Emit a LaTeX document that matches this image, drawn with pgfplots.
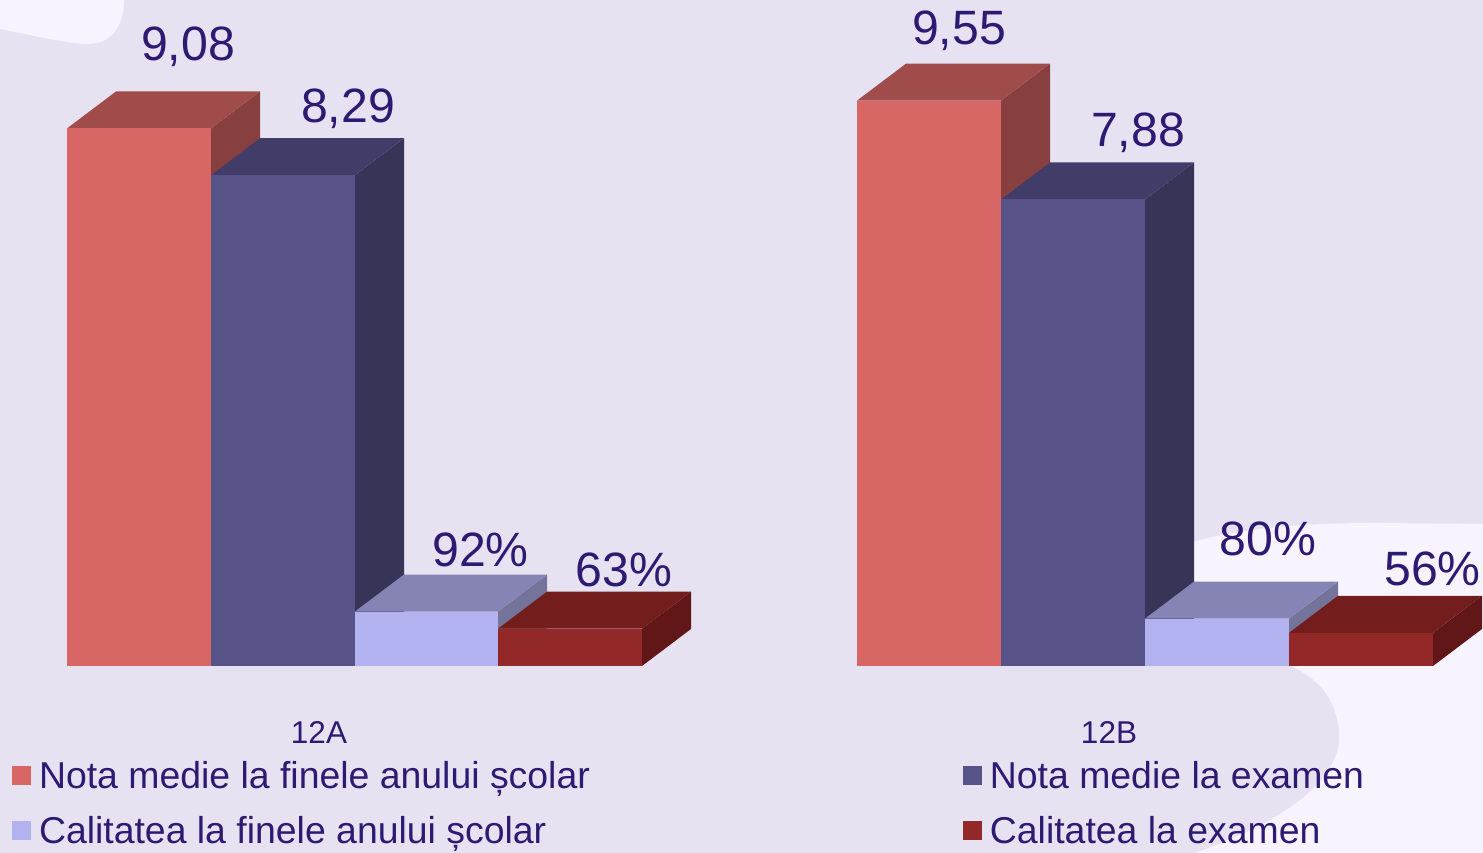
\documentclass[border=0pt]{standalone}
\usepackage{pgfplots}
\pgfplotsset{compat=1.18}
\usepackage{fontspec}
\setmainfont{Liberation Sans}
\definecolor{bg}{HTML}{E6E2F1}
\definecolor{blob}{HTML}{F7F4FF}
\definecolor{ink}{HTML}{2E1A72}
\definecolor{rf}{HTML}{D76664}\definecolor{rt}{HTML}{A04C4A}\definecolor{rs}{HTML}{873F3F}
\definecolor{nf}{HTML}{575389}\definecolor{nt}{HTML}{423D68}\definecolor{ns}{HTML}{363558}
\definecolor{lf}{HTML}{B2B2F0}\definecolor{lt}{HTML}{8584B5}\definecolor{ls}{HTML}{747399}
\definecolor{df}{HTML}{922827}\definecolor{dt}{HTML}{731D1D}\definecolor{ds}{HTML}{611717}
% #1 left x, #2 right x, #3 value, #4 front, #5 top, #6 side
\newcommand\cube[6]{%
  \pgfmathsetmacro\xa{#1+49}\pgfmathsetmacro\xb{#2+49}%
  \pgfmathsetmacro\yb{0.625}\pgfmathsetmacro\yt{#3+0.625}%
  \addplot[fill=#6,draw=none,forget plot] coordinates {(#2,0)(\xb,\yb)(\xb,\yt)(#2,#3)} --cycle;
  \addplot[fill=#5,draw=none,forget plot] coordinates {(#1,#3)(\xa,\yt)(\xb,\yt)(#2,#3)} --cycle;
  \addplot[fill=#4,draw=none,forget plot] coordinates {(#1,0)(#2,0)(#2,#3)(#1,#3)} --cycle;
}
\pgfplotsset{
  swatch/.style={legend image code/.code={\fill[#1,draw=none] (0pt,-9.5pt) rectangle (19pt,9.5pt);\path[draw=none,fill=none] (0pt,0pt) rectangle (25pt,0pt);}}
}
\begin{document}
\begin{tikzpicture}[x=1pt,y=1pt]
\path[use as bounding box] (0,0) rectangle (1483,853);
\fill[bg] (0,0) rectangle (1483,853);
\fill[blob] (0,824) .. controls (40,816) and (70,809) .. (88,809)
  .. controls (110,809) and (124,825) .. (124,853) -- (0,853) -- cycle;
\fill[blob] (1185,309) .. controls (1250,328) and (1320,330) .. (1380,330) -- (1483,329) -- (1483,0) -- (1195,0)
  .. controls (1280,30) and (1339,70) .. (1339,116)
  .. controls (1339,150) and (1320,175) .. (1290,187) -- (1170,187) -- cycle;
\begin{axis}[
  at={(0pt,0pt)},anchor=south west,scale only axis,
  width=1483pt,height=853pt,
  xmin=0,xmax=1483,ymin=-3.159,ymax=11.25,
  axis line style={draw=none},
  major tick length=0pt,
  ytick=\empty,
  xtick={319,1109},xticklabels={12A,12B},
  x tick label style={anchor=base,yshift=109pt,font=\fontsize{31.5pt}{34pt}\selectfont,text=ink},
  clip=false,
  legend columns=2,
  legend cell align=left,
  legend style={at={(axis cs:12,-1.57)},anchor=north west,draw=none,fill=none,inner sep=0pt,outer sep=0pt,
    font=\fontsize{37.4pt}{40pt}\selectfont,text=ink,
    /tikz/every even column/.style={column sep=371pt},
    /tikz/row sep=23pt},
]
\cube{67}{211}{9.08}{rf}{rt}{rs}
\cube{211}{355}{8.29}{nf}{nt}{ns}
\cube{355}{498}{0.92}{lf}{lt}{ls}
\cube{498}{642}{0.63}{df}{dt}{ds}
\cube{857}{1001}{9.55}{rf}{rt}{rs}
\cube{1001}{1145}{7.88}{nf}{nt}{ns}
\cube{1145}{1289}{0.80}{lf}{lt}{ls}
\cube{1289}{1433}{0.56}{df}{dt}{ds}
\addlegendimage{swatch={rf}}\addlegendentry{Nota medie la finele anului școlar}
\addlegendimage{swatch={nf}}\addlegendentry{Nota medie la examen}
\addlegendimage{swatch={lf}}\addlegendentry{Calitatea la finele anului școlar}
\addlegendimage{swatch={df}}\addlegendentry{Calitatea la examen}
\tikzset{val/.style={anchor=base,text=ink,inner sep=0pt,font=\fontsize{48.2pt}{50pt}\selectfont}}
\node[val] at (axis cs:188,10.235) {9,08};
\node[val] at (axis cs:348,9.182) {8,29};
\node[val] at (axis cs:480.5,1.673) {92\%};
\node[val] at (axis cs:624,1.35) {63\%};
\node[val] at (axis cs:959,10.5) {9,55};
\node[val] at (axis cs:1138,8.777) {7,88};
\node[val] at (axis cs:1268,1.874) {80\%};
\node[val] at (axis cs:1432.5,1.367) {56\%};
\end{axis}
\end{tikzpicture}
\end{document}
